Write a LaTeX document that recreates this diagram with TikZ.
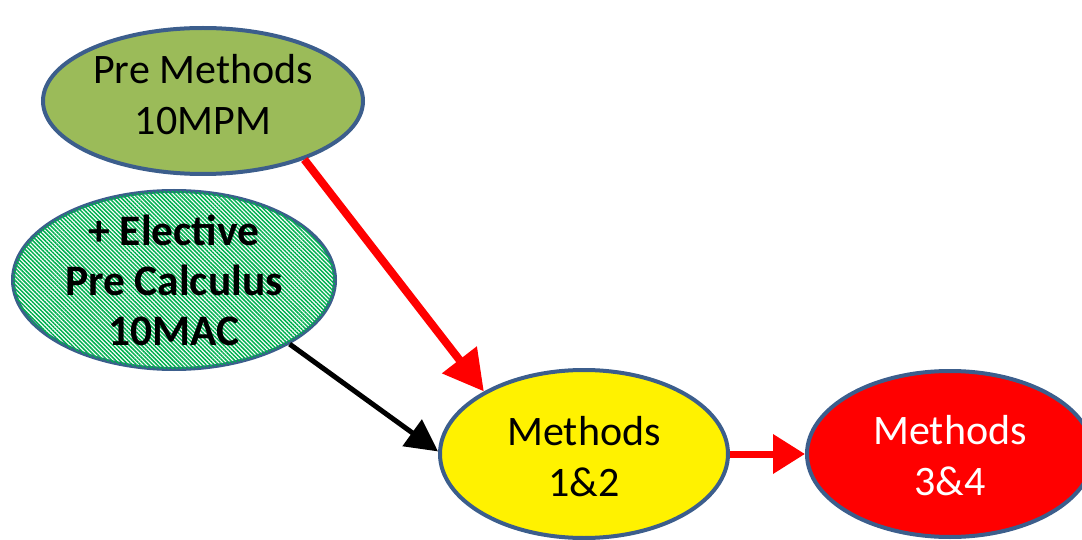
\documentclass[tikz,border=0pt]{standalone}
\usepackage{fontspec}
\setmainfont{Carlito}
\usetikzlibrary{shapes.geometric,arrows.meta,patterns.meta}
\definecolor{bord}{RGB}{60,94,140}
\definecolor{olivegreen}{RGB}{155,187,89}
\definecolor{hatchgreen}{RGB}{0,176,80}
\tikzset{
  oval/.style={ellipse, draw=bord, line width=4pt, inner sep=0pt, align=center,
    font=\fontsize{42}{51}\selectfont},
  ovaltext/.style={inner sep=0pt, align=center, font=\fontsize{42}{51}\selectfont},
  redarrow/.style={draw=red, line width=8pt, -{Triangle[length=40pt,width=42pt]}},
  blackarrow/.style={draw=black, line width=5pt, -{Triangle[length=32pt,width=32pt]}},
}
\begin{document}
\begin{tikzpicture}[x=1pt,y=-1pt]
\useasboundingbox (0,0) rectangle (1082,540);
\clip (0,0) rectangle (1082,540);
\node[oval, fill=olivegreen, minimum width=320pt, minimum height=146pt] (pm) at (203,101) {};
\node[ovaltext] (pmt) at (203,95) {Pre Methods\\10MPM};
\node[oval, fill=white, postaction={pattern={Lines[angle=-45,distance=2.9pt,line width=1.5pt]}, pattern color=hatchgreen},
      minimum width=322pt, minimum height=178pt] (el) at (174,280) {};
\node[ovaltext, font=\fontsize{43.5}{50}\selectfont\bfseries] (elt) at (el.center) {+ Elective\\Pre Calculus\\10MAC};
\node[oval, fill=yellow, minimum width=288pt, minimum height=168pt] (m12) at (584,454) {};
\node[ovaltext] (m12t) at (584,457) {Methods\\1\&2};
\node[oval, fill=red, minimum width=286pt, minimum height=166pt] (m34) at (950,454) {};
\node[ovaltext, text=white] (m34t) at (950,456) {Methods\\3\&4};
\draw[redarrow] (pm.-30) -- (m12.148);
\draw[blackarrow] (el.-29) -- (m12.179);
\draw[redarrow, line width=7pt, -{Triangle[length=32pt,width=38pt]}] (m12.east) -- (m34.west);
\end{tikzpicture}
\end{document}
